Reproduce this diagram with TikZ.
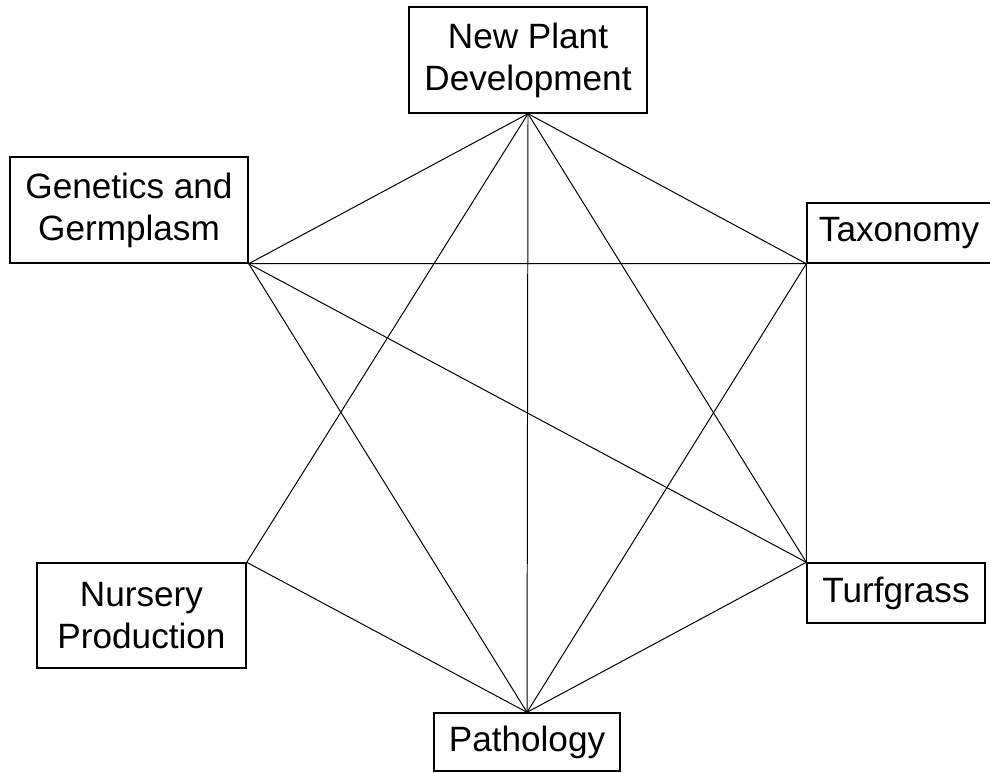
\documentclass[tikz,border=0pt]{standalone}
\usepackage{fontspec}
\setmainfont{Liberation Sans}
\usetikzlibrary{positioning}

\begin{document}
\begin{tikzpicture}[x=0.025cm,y=-0.025cm]
   \tikzset{AreaStyle/.style={draw, line width=1pt, align=center, inner sep=0pt,
      font=\fontsize{25}{30}\selectfont}}
   \tikzset{LinkStyle/.style={line width=0.7pt}}
   \useasboundingbox (0,0) rectangle (990,772);
   \node[AreaStyle, minimum width=5.95cm, minimum height=2.65cm] (npd) at (528,60) {New Plant\\Development};
   \node[AreaStyle, minimum width=5.95cm, minimum height=2.65cm] (gen) at (129,210) {Genetics and\\Germplasm};
   \node[AreaStyle, minimum width=4.6cm, minimum height=1.5cm] (tax) at (899,233) {Taxonomy};
   \node[AreaStyle, minimum width=5.225cm, minimum height=2.625cm] (nur) at (141.5,615.5) {Nursery\\Production};
   \node[AreaStyle, minimum width=4.45cm, minimum height=1.5cm] (turf) at (896,593) {Turfgrass};
   \node[AreaStyle, minimum width=4.65cm, minimum height=1.45cm] (path) at (527,742) {Pathology};
   \draw[LinkStyle] (npd.south) -- (gen.south east);
   \draw[LinkStyle] (npd.south) -- (tax.south west);
   \draw[LinkStyle] (npd.south) -- (nur.north east);
   \draw[LinkStyle] (npd.south) -- (path.north);
   \draw[LinkStyle] (npd.south) -- (turf.north west);
   \draw[LinkStyle] (gen.south east) -- (tax.south west);
   \draw[LinkStyle] (gen.south east) -- (turf.north west);
   \draw[LinkStyle] (gen.south east) -- (path.north);
   \draw[LinkStyle] (tax.south west) -- (turf.north west);
   \draw[LinkStyle] (tax.south west) -- (path.north);
   \draw[LinkStyle] (nur.north east) -- (path.north);
   \draw[LinkStyle] (turf.north west) -- (path.north);
\end{tikzpicture}
\end{document}
